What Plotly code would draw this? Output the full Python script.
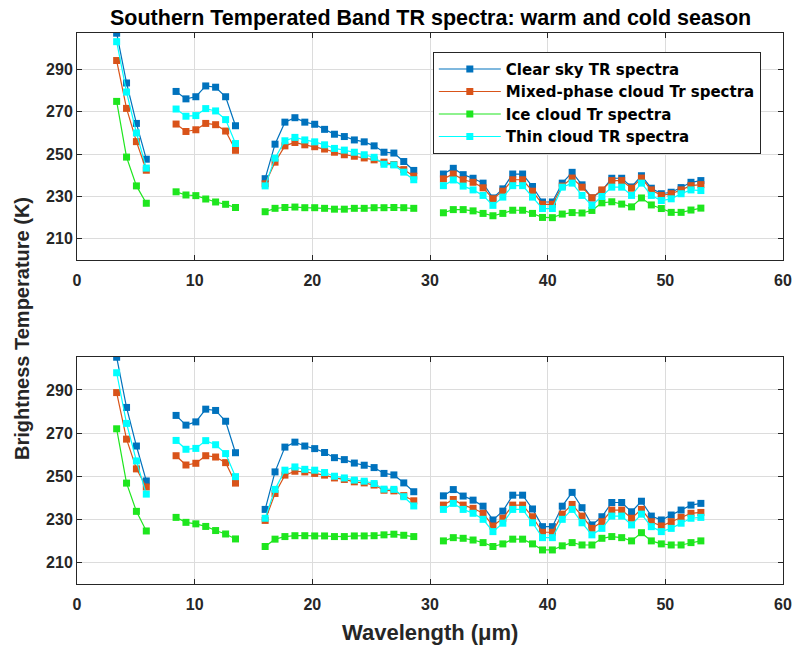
import plotly.graph_objects as go

# Wavelength (um) of each channel; None marks gaps between spectral bands
wavelength = [3.37, 4.21, 5.05, 5.89, None,
              8.42, 9.26, 10.10, 10.94, 11.78, 12.63, 13.47, None,
              15.99, 16.83, 17.67, 18.52, 19.36, 20.20, 21.04, 21.88, 22.72, 23.57, 24.41, 25.25, 26.09, 26.93, 27.77, 28.62, None,
              31.14, 31.98, 32.82, 33.66, 34.51, 35.35, 36.19, 37.03, 37.87, 38.71, 39.56, 40.40, 41.24, 42.08,
              42.92, 43.76, 44.61, 45.45, 46.29, 47.13, 47.97, 48.81, 49.66, 50.50, 51.34, 52.18, 53.02]

# ---- warm season (top panel) ----
clear_warm = [307.1, 283.6, 264.5, 247.6, None,
              279.6, 276.1, 277.1, 282.2, 281.6, 277.1, 263.4, None,
              238.4, 254.7, 265.1, 267.2, 265.1, 264.1, 261.7, 259.4, 258.3, 256.7, 255.8, 253.9, 250.9, 250.5, 246.5, 242.3, None,
              240.6, 243.3, 240.3, 238.6, 236.3, 229.3, 233.6, 240.6, 240.6, 234.7, 227.4, 227.4, 236.3, 241.4,
              235.5, 229.3, 232.8, 238.6, 238.6, 234.5, 239.8, 233.9, 231.3, 232.0, 234.2, 236.7, 237.5]
mixed_warm = [294.2, 271.6, 255.9, 242.4, None,
              264.2, 260.7, 261.5, 264.5, 263.9, 260.9, 251.8, None,
              236.0, 246.2, 253.9, 255.5, 254.4, 253.5, 252.4, 250.9, 249.7, 249.0, 248.2, 247.3, 246.2, 245.1, 242.7, 239.6, None,
              238.3, 240.6, 237.9, 236.7, 234.1, 228.9, 232.5, 237.9, 237.9, 232.5, 226.3, 226.3, 234.9, 238.7,
              234.4, 229.4, 233.1, 237.5, 237.5, 233.9, 238.7, 233.1, 230.5, 231.3, 233.1, 235.1, 235.6]
ice_warm = [274.9, 248.6, 235.0, 226.8, None,
            232.2, 230.7, 230.4, 228.8, 227.4, 226.3, 224.8, None,
            222.8, 224.4, 224.8, 225.0, 224.7, 224.7, 224.4, 224.0, 224.0, 224.4, 224.4, 224.7, 224.7, 224.8, 224.7, 224.4, None,
            222.3, 223.8, 223.8, 223.2, 222.0, 220.9, 222.0, 223.5, 223.5, 222.0, 220.1, 220.0, 221.7, 222.4,
            222.2, 223.4, 227.0, 227.5, 226.4, 225.1, 229.3, 226.0, 224.3, 222.5, 222.5, 223.6, 224.5]
thin_warm = [303.1, 279.3, 260.0, 243.4, None,
             271.3, 267.9, 268.2, 271.5, 270.4, 266.3, 255.0, None,
             235.0, 248.1, 256.3, 257.9, 256.7, 255.8, 254.4, 252.7, 251.9, 250.9, 249.7, 248.5, 245.2, 244.9, 241.5, 237.9, None,
             235.1, 237.8, 234.9, 233.1, 230.5, 225.8, 229.7, 235.1, 235.1, 229.7, 224.3, 224.3, 234.4, 236.3,
             230.5, 225.8, 230.0, 234.4, 234.4, 230.5, 236.3, 230.5, 228.1, 228.9, 231.3, 233.1, 232.8]

# ---- cold season (bottom panel) ----
clear_cold = [305.2, 281.9, 264.0, 247.8, None,
              278.2, 273.7, 275.2, 281.1, 280.5, 275.5, 260.9, None,
              234.6, 252.0, 263.5, 265.8, 264.0, 262.8, 261.0, 258.6, 257.7, 256.1, 255.1, 254.0, 251.3, 250.6, 246.9, 242.8, None,
              240.9, 243.8, 240.8, 238.9, 236.1, 229.7, 233.8, 241.2, 241.2, 234.8, 226.6, 226.6, 236.1, 242.5,
              235.4, 227.4, 231.2, 237.8, 237.8, 233.5, 238.4, 231.5, 229.7, 232.0, 234.3, 236.6, 237.4]
mixed_cold = [288.8, 267.2, 253.4, 245.0, None,
              259.5, 255.2, 256.0, 259.5, 258.9, 256.3, 246.8, None,
              229.5, 242.0, 250.5, 252.3, 252.0, 251.3, 250.5, 249.2, 248.5, 247.4, 246.9, 245.9, 243.5, 243.2, 241.0, 238.6, None,
              236.6, 239.2, 236.6, 235.1, 232.8, 226.9, 230.5, 236.6, 236.6, 231.2, 224.0, 224.0, 232.4, 236.9,
              231.5, 225.8, 228.9, 234.3, 234.3, 230.5, 234.6, 228.9, 226.9, 228.9, 230.9, 232.8, 233.2]
ice_cold = [272.0, 246.8, 233.7, 224.6, None,
            230.9, 228.6, 227.9, 226.7, 224.8, 223.2, 220.9, None,
            217.4, 220.8, 222.0, 222.4, 222.4, 222.3, 222.3, 222.0, 222.0, 222.3, 222.3, 222.4, 222.8, 223.1, 222.6, 222.0, None,
            220.0, 221.5, 221.2, 220.4, 219.2, 217.4, 218.6, 220.8, 220.8, 218.6, 215.8, 215.8, 217.7, 219.2,
            218.1, 218.1, 221.2, 222.0, 221.5, 220.0, 223.8, 220.0, 218.6, 218.1, 218.1, 219.2, 220.0]
thin_cold = [298.0, 274.5, 257.1, 241.7, None,
             266.6, 262.5, 262.9, 266.5, 264.6, 260.5, 249.8, None,
             230.5, 243.9, 252.8, 254.3, 253.2, 252.8, 251.7, 250.0, 249.2, 248.2, 247.7, 246.6, 244.0, 243.9, 240.5, 236.2, None,
             234.6, 237.4, 234.6, 232.8, 230.0, 224.3, 228.2, 234.6, 234.6, 228.4, 221.5, 221.5, 230.0, 234.6,
             228.4, 222.8, 225.8, 231.5, 231.5, 227.4, 232.4, 226.6, 224.3, 225.8, 228.2, 230.5, 230.9]

series_names = ["Clear sky TR spectra", "Mixed-phase cloud Tr spectra",
                "Ice cloud Tr spectra", "Thin cloud TR spectra"]
colors = ["#0072BD", "#D95319", "#1EE61E", "#00FFFF"]
y_ticks = [210, 230, 250, 270, 290]
x_ticks = [0, 10, 20, 30, 40, 50, 60]

FONT = "Liberation Sans"
fig = go.Figure()

panels = [
    ([clear_warm, mixed_warm, ice_warm, thin_warm], "x", "y", True),
    ([clear_cold, mixed_cold, ice_cold, thin_cold], "x2", "y2", False),
]
for data, xa, ya, show in panels:
    for vals, name, col in zip(data, series_names, colors):
        fig.add_trace(go.Scatter(
            x=wavelength, y=vals, name=name, xaxis=xa, yaxis=ya,
            mode="lines+markers", connectgaps=False, showlegend=show,
            line=dict(color=col, width=1.2),
            marker=dict(symbol="square", size=7, color=col),
        ))

axis_common = dict(
    showline=True, linecolor="#262626", linewidth=1, mirror="ticks",
    ticks="inside", ticklen=5, tickcolor="#262626",
    showgrid=True, gridcolor="#DCDCDC", gridwidth=1, zeroline=False,
    automargin=False,
    tickfont=dict(family=FONT, size=16, color="#262626", weight="bold"),
)
x_common = dict(axis_common, range=[0, 60], tickvals=x_ticks, domain=[0, 1], ticklabelstandoff=6)

W, H = 795, 649
L, R, T, B = 77, 12, 33, 65
PH = H - T - B  # 551
top_bottom = (584 - 260) / PH
bot_top = (584 - 357) / PH

fig.update_layout(
    width=W, height=H,
    paper_bgcolor="white", plot_bgcolor="white",
    margin=dict(l=L, r=R, t=T, b=B),
    font=dict(family=FONT, color="#262626"),
    xaxis=dict(x_common, anchor="y"),
    yaxis=dict(axis_common, domain=[top_bottom, 1], range=[200, 307.2], tickvals=y_ticks, anchor="x"),
    xaxis2=dict(x_common, anchor="y2"),
    yaxis2=dict(axis_common, domain=[0, bot_top], range=[200, 305.3], tickvals=y_ticks, anchor="x2"),
    showlegend=True,
    legend=dict(
        x=0.504, y=0.966, xanchor="left", yanchor="top",
        bgcolor="white", bordercolor="#262626", borderwidth=1,
        font=dict(family="DejaVu Sans", size=15, color="black", weight="bold"),
        tracegroupgap=0, itemwidth=62,
    ),
    annotations=[
        dict(text="<b>Southern Temperated Band TR spectra: warm and cold season</b>",
             x=0.5, y=(584 - 18) / PH, xref="paper", yref="paper", showarrow=False,
             xanchor="center", yanchor="middle",
             font=dict(family=FONT, size=21.5, color="black")),
        dict(text="<b>Wavelength (\u03bcm)</b>",
             x=0.5, y=-(632 - 584) / PH, xref="paper", yref="paper", showarrow=False,
             xanchor="center", yanchor="middle",
             font=dict(family=FONT, size=22, color="#262626")),
        dict(text="<b>Brightness Temperature (K)</b>",
             x=-(77 - 22) / 706, y=(584 - 329) / PH, xref="paper", yref="paper", showarrow=False,
             xanchor="center", yanchor="middle", textangle=-90,
             font=dict(family=FONT, size=20, color="#262626")),
    ],
)

fig.write_html("out.html", config={"displayModeBar": False},
               post_script="document.body.style.margin='0px';document.body.style.overflow='hidden';")
